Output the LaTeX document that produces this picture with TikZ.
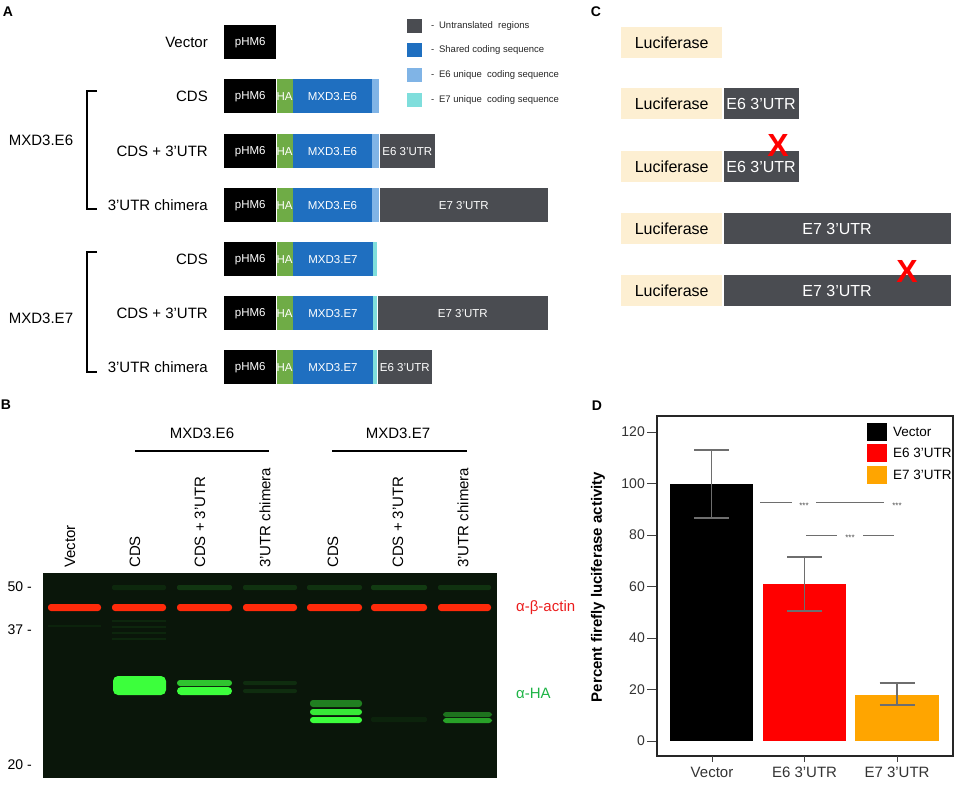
\documentclass[tikz,border=0pt]{standalone}
\usepackage{fontspec}
\setmainfont{Liberation Sans}
\definecolor{utr}{HTML}{4A4C51}
\definecolor{shared}{HTML}{1F6FC0}
\definecolor{esix}{HTML}{80B4E6}
\definecolor{eseven}{HTML}{7FDEDC}
\definecolor{hatag}{HTML}{6FAC46}
\definecolor{luc}{HTML}{FDEFD2}
\definecolor{gel}{HTML}{0A160A}
\definecolor{actin}{HTML}{FF2A0A}
\definecolor{band}{HTML}{3CFF3C}
\definecolor{errgray}{HTML}{6E6E6E}
\definecolor{orangebar}{HTML}{FFA500}

\tikzset{
  seg/.style={rectangle,inner sep=0pt,anchor=north west,minimum height=34pt,
    text=white,font=\fontsize{11.5}{13}\selectfont},
  rowlabel/.style={anchor=east,inner sep=0pt,font=\fontsize{15}{18}\selectfont},
  panel/.style={font=\fontsize{14}{16}\selectfont\bfseries},
  lane/.style={rotate=90,anchor=west,inner sep=0pt,font=\fontsize{15}{18}\selectfont},
  lucbox/.style={rectangle,inner sep=0pt,anchor=north west,minimum height=31pt,
    minimum width=101pt,fill=luc,font=\fontsize{16}{19}\selectfont},
  utrbox/.style={rectangle,inner sep=0pt,anchor=north west,minimum height=31pt,
    fill=utr,text=white,font=\fontsize{16}{19}\selectfont},
  cross/.style={inner sep=0pt,text=red,font=\fontsize{32}{36}\selectfont\bfseries},
}

\begin{document}
\begin{tikzpicture}[x=1pt,y=-1pt]
\useasboundingbox (0,0) rectangle (957,784);

% panel letters
\node[panel] (pa) at (8,12) {A};
\node[panel] (pb) at (6,405) {B};
\node[panel] (pc) at (596,12) {C};
\node[panel] (pd) at (597,406) {D};

% A: constructs
\begin{scope}[every node/.style={seg}]
  \node[fill=black,minimum width=52pt] (v1) at (224,25) {pHM6};

  \node[fill=black,minimum width=52pt] (a1) at (224,79) {pHM6};
  \node[fill=hatag,minimum width=16pt] (a2) at (a1.north east) {HA};
  \node[fill=shared,minimum width=79pt] (a3) at (a2.north east) {MXD3.E6};
  \node[fill=esix,minimum width=7pt] (a4) at (a3.north east) {};

  \node[fill=black,minimum width=52pt] (b1) at (224,134) {pHM6};
  \node[fill=hatag,minimum width=16pt] (b2) at (b1.north east) {HA};
  \node[fill=shared,minimum width=79pt] (b3) at (b2.north east) {MXD3.E6};
  \node[fill=esix,minimum width=7pt] (b4) at (b3.north east) {};
  \node[fill=utr,minimum width=55pt] (b5) at (b4.north east) {E6 3’UTR};

  \node[fill=black,minimum width=52pt] (c1) at (224,188) {pHM6};
  \node[fill=hatag,minimum width=16pt] (c2) at (c1.north east) {HA};
  \node[fill=shared,minimum width=79pt] (c3) at (c2.north east) {MXD3.E6};
  \node[fill=esix,minimum width=7pt] (c4) at (c3.north east) {};
  \node[fill=utr,minimum width=168pt] (c5) at (c4.north east) {E7 3’UTR};

  \node[fill=black,minimum width=52pt] (d1) at (224,242) {pHM6};
  \node[fill=hatag,minimum width=16pt] (d2) at (d1.north east) {HA};
  \node[fill=shared,minimum width=80pt] (d3) at (d2.north east) {MXD3.E7};
  \node[fill=eseven,minimum width=4pt] (d4) at (d3.north east) {};

  \node[fill=black,minimum width=52pt] (e1) at (224,296) {pHM6};
  \node[fill=hatag,minimum width=16pt] (e2) at (e1.north east) {HA};
  \node[fill=shared,minimum width=80pt] (e3) at (e2.north east) {MXD3.E7};
  \node[fill=eseven,minimum width=4pt] (e4) at (e3.north east) {};
  \node[fill=utr,minimum width=170pt] (e5) at (e4.north east) {E7 3’UTR};

  \node[fill=black,minimum width=52pt] (f1) at (224,350) {pHM6};
  \node[fill=hatag,minimum width=16pt] (f2) at (f1.north east) {HA};
  \node[fill=shared,minimum width=80pt] (f3) at (f2.north east) {MXD3.E7};
  \node[fill=eseven,minimum width=4pt] (f4) at (f3.north east) {};
  \node[fill=utr,minimum width=54pt] (f5) at (f4.north east) {E6 3’UTR};
\end{scope}

\begin{scope}[every node/.style={rowlabel}]
  \node (r1) at (208,42)  {Vector};
  \node (r2) at (208,96)  {CDS};
  \node (r3) at (208,151) {CDS + 3’UTR};
  \node (r4) at (208,205) {3’UTR chimera};
  \node (r5) at (208,259) {CDS};
  \node (r6) at (208,313) {CDS + 3’UTR};
  \node (r7) at (208,367) {3’UTR chimera};
\end{scope}

\node[font=\fontsize{15}{18}\selectfont] (g1) at (41,140) {MXD3.E6};
\node[font=\fontsize{15}{18}\selectfont] (g2) at (41,318) {MXD3.E7};
\draw[line width=2pt] (97,91) -- (87,91) -- (87,209) -- (97,209);
\draw[line width=2pt] (97,252) -- (87,252) -- (87,372) -- (97,372);

% A: legend
\begin{scope}[every node/.style={seg,minimum width=15pt,minimum height=14pt}]
  \node[fill=utr]    (k1) at (407,19) {};
  \node[fill=shared] (k2) at (407,43) {};
  \node[fill=esix]   (k3) at (407,68) {};
  \node[fill=eseven] (k4) at (407,93) {};
\end{scope}
\begin{scope}[every node/.style={anchor=west,inner sep=0pt,text=black!85,font=\fontsize{9.5}{11}\selectfont}]
  \node (t1) at (431,26)  {-\enspace Untranslated\ \ regions};
  \node (t2) at (431,50)  {-\enspace Shared coding sequence};
  \node (t3) at (431,75)  {-\enspace E6 unique\ \ coding sequence};
  \node (t4) at (431,100) {-\enspace E7 unique\ \ coding sequence};
\end{scope}

% C: reporters
\node[lucbox] (l1) at (621,27)  {Luciferase};
\node[lucbox] (l2) at (621,88)  {Luciferase};
\node[lucbox] (l3) at (621,151) {Luciferase};
\node[lucbox] (l4) at (621,213) {Luciferase};
\node[lucbox] (l5) at (621,275) {Luciferase};
\node[utrbox,minimum width=75pt]  (u2) at ([xshift=1pt]l2.north east) {E6 3’UTR};
\node[utrbox,minimum width=75pt]  (u3) at ([xshift=1pt]l3.north east) {E6 3’UTR};
\node[utrbox,minimum width=227pt] (u4) at ([xshift=1pt]l4.north east) {E7 3’UTR};
\node[utrbox,minimum width=227pt] (u5) at ([xshift=1pt]l5.north east) {E7 3’UTR};
\node[cross] (x1) at (778,145) {X};
\node[cross] (x2) at (907,271) {X};

% B: western blot
\node[font=\fontsize{15}{18}\selectfont] (h1) at (202,433) {MXD3.E6};
\node[font=\fontsize{15}{18}\selectfont] (h2) at (398,433) {MXD3.E7};
\draw[line width=2.7pt] (135,451) -- (269,451);
\draw[line width=2.7pt] (332,451) -- (467,451);

\begin{scope}[every node/.style={lane}]
  \node (n1) at (70,568)  {Vector};
  \node (n2) at (135,568) {CDS};
  \node (n3) at (200,568) {CDS + 3’UTR};
  \node (n4) at (265,568) {3’UTR chimera};
  \node (n5) at (333,568) {CDS};
  \node (n6) at (398,568) {CDS + 3’UTR};
  \node (n7) at (463,568) {3’UTR chimera};
\end{scope}

\fill[gel] (43,573) rectangle (497,778);
% faint background bands
\foreach \a/\b/\o in {112/166/.08,177/232/.14,243/297/.12,307/362/.12,371/427/.16,438/491/.12}
  \fill[band,opacity=\o,rounded corners=2pt] (\a,585) rectangle (\b,590);
\foreach \y in {620,626,632,638}
  \fill[band,opacity=.07] (112,\y) rectangle (166,\y+2);
\fill[band,opacity=.06] (48,625) rectangle (101,627);
% actin
\foreach \a/\b in {48/101,112/166,177/232,243/297,307/362,371/427,438/491}
  \fill[actin,rounded corners=3pt] (\a,604) rectangle (\b,611);
% HA
\fill[band,rounded corners=5pt] (113,676) rectangle (166,695);
\fill[band,opacity=.75,rounded corners=3pt] (177,680) rectangle (232,686);
\fill[band,rounded corners=4pt] (177,687) rectangle (232,695);
\fill[band,opacity=.1,rounded corners=2pt] (243,681) rectangle (297,685);
\fill[band,opacity=.1,rounded corners=2pt] (243,689) rectangle (297,693);
\fill[band,opacity=.45,rounded corners=3pt] (310,700) rectangle (362,707);
\fill[band,opacity=.9,rounded corners=3pt] (310,709) rectangle (362,715);
\fill[band,rounded corners=3pt] (310,717) rectangle (362,723);
\fill[band,opacity=.06,rounded corners=2pt] (371,717) rectangle (427,722);
\fill[band,opacity=.4,rounded corners=3pt] (443,712) rectangle (492,717);
\fill[band,opacity=.6,rounded corners=3pt] (443,718) rectangle (492,723);

\begin{scope}[every node/.style={anchor=east,inner sep=0pt,font=\fontsize{14}{16}\selectfont}]
  \node (m1) at (32,587) {50 -};
  \node (m2) at (32,630) {37 -};
  \node (m3) at (32,765) {20 -};
\end{scope}
\node[anchor=west,inner sep=0pt,text={rgb,255:red,235;green,30;blue,30},font=\fontsize{15}{18}\selectfont] (ab1) at (516,608) {α-β-actin};
\node[anchor=west,inner sep=0pt,text={rgb,255:red,30;green,180;blue,70},font=\fontsize{15}{18}\selectfont] (ab2) at (516,693) {α-HA};

% D: luciferase assay
\node[rotate=90,font=\fontsize{15}{18}\selectfont\bfseries] (ylab) at (598,587) {Percent firefly luciferase activity};
\begin{scope}[shift={(0,741)},y=2.575pt]
  \fill[black] (670,0) rectangle (753,100);
  \fill[red] (763,0) rectangle (846,61);
  \fill[orangebar] (855,0) rectangle (939,18);
  \foreach \v in {0,20,...,120} {
    \draw[line width=1pt,black!75] (647,\v) -- (657,\v);
    \node[anchor=east,inner sep=0pt,text=black!80,font=\fontsize{14}{16}\selectfont] (y\v) at (645,\v) {\v};
  }
  \begin{scope}[errgray,line width=1.6pt]
    \draw (711.5,86.5) -- (711.5,113) (694,86.5) -- (729,86.5) (694,113) -- (729,113);
    \draw (804.5,50.5) -- (804.5,71.5) (787,50.5) -- (822,50.5) (787,71.5) -- (822,71.5);
    \draw (897,14) -- (897,22.5) (879.5,14) -- (914.5,14) (879.5,22.5) -- (914.5,22.5);
  \end{scope}
  \begin{scope}[errgray,line width=1pt]
    \draw (760,92.5) -- (792,92.5) (816,92.5) -- (884,92.5);
    \draw (806,80) -- (837,80) (863,80) -- (894,80);
  \end{scope}
  \begin{scope}[every node/.style={inner sep=0pt,text=black!70,font=\fontsize{8}{9}\selectfont}]
    \node (s1) at (804,91.5) {***};
    \node (s2) at (897,91.5) {***};
    \node (s3) at (850,79) {***};
  \end{scope}
\end{scope}
\draw[line width=1.3pt,black!85] (657,416) rectangle (953,756);
\foreach \x in {712,804.5,897}
  \draw[line width=1pt,black!75] (\x,756) -- (\x,762);
\begin{scope}[every node/.style={text=black!80,font=\fontsize{15}{18}\selectfont}]
  \node (xl1) at (712,772) {Vector};
  \node (xl2) at (804.5,772) {E6 3’UTR};
  \node (xl3) at (897,772) {E7 3’UTR};
\end{scope}
\fill[black] (867,423) rectangle (887,441);
\fill[red] (867,444) rectangle (887,462);
\fill[orangebar] (867,466) rectangle (887,484);
\begin{scope}[every node/.style={anchor=west,inner sep=0pt,font=\fontsize{13.5}{16}\selectfont}]
  \node (k5) at (893,432) {Vector};
  \node (k6) at (893,453) {E6 3’UTR};
  \node (k7) at (893,475) {E7 3’UTR};
\end{scope}

\end{tikzpicture}
\end{document}
